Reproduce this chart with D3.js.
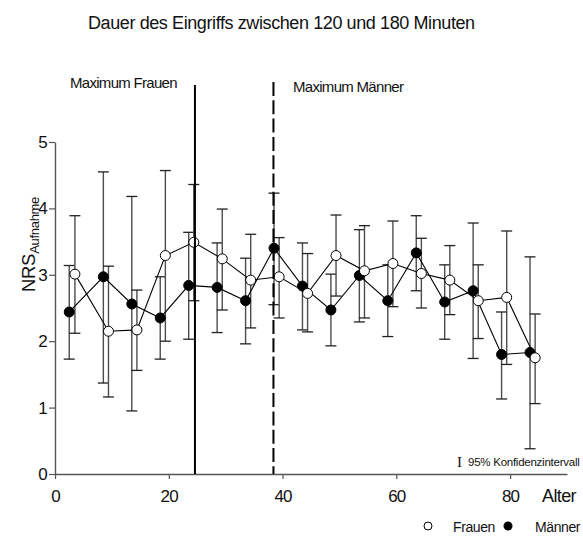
<!DOCTYPE html>
<html>
<head>
<meta charset="utf-8">
<script src="https://cdn.jsdelivr.net/npm/d3@7"></script>
<style>
  html, body { margin: 0; padding: 0; background: #fff; }
  svg { display: block; font-family: "Liberation Sans", Arial, sans-serif; }
</style>
</head>
<body>
<svg id="chart" width="583" height="538"></svg>
<script>
// Mittleres NRS bei Aufnahme nach Altersgruppe, mit 95%-Konfidenzintervall
const alterMaenner = [2.5, 8.5, 13.5, 18.5, 23.5, 28.5, 33.5, 38.5, 43.5, 48.5, 53.5, 58.5, 63.5, 68.5, 73.5, 78.5, 83.5];
const nrsMaenner   = [2.44, 2.97, 2.56, 2.35, 2.84, 2.81, 2.61, 3.40, 2.83, 2.47, 2.99, 2.61, 3.33, 2.59, 2.76, 1.80, 1.83];
const kiMaennerU   = [1.73, 1.37, 0.95, 1.73, 2.03, 2.13, 1.96, 2.55, 2.17, 1.93, 2.29, 2.07, 2.76, 2.03, 1.74, 1.13, 0.38];
const kiMaennerO   = [3.14, 4.55, 4.18, 2.97, 3.64, 3.48, 3.25, 4.23, 3.48, 3.01, 3.68, 3.15, 3.89, 3.15, 3.78, 2.44, 3.27];

const alterFrauen  = [3.5, 9.4, 14.4, 19.4, 24.4, 29.4, 34.4, 39.4, 44.4, 49.4, 54.4, 59.4, 64.4, 69.4, 74.4, 79.4, 84.4];
const nrsFrauen    = [3.01, 2.15, 2.17, 3.29, 3.49, 3.24, 2.92, 2.97, 2.72, 3.29, 3.06, 3.17, 3.02, 2.92, 2.61, 2.66, 1.75];
const kiFrauenU    = [2.12, 1.16, 1.56, 2.00, 2.61, 2.47, 2.20, 2.35, 2.14, 2.68, 2.35, 2.52, 2.50, 2.40, 2.04, 1.65, 1.06];
const kiFrauenO    = [3.89, 3.13, 2.77, 4.57, 4.36, 3.99, 3.61, 3.56, 3.32, 3.90, 3.74, 3.81, 3.55, 3.44, 3.15, 3.66, 2.41];

const maxAlterFrauen  = 24.6;
const maxAlterMaenner = 38.4;

const xTicks = [0, 20, 40, 60, 80];
const yTicks = [0, 1, 2, 3, 4, 5];

const svg = d3.select("#chart");
const x = d3.scaleLinear().domain([0, 90]).range([55, 567]);
const y = d3.scaleLinear().domain([0, 5]).range([474, 142]);

const axisColor = "#555";

// Achsen
const xAxis = svg.append("g").attr("transform", `translate(0,${y(0)})`)
  .call(d3.axisBottom(x).tickValues(xTicks).tickFormat(d3.format("d"))
    .tickSize(5).tickSizeOuter(0).tickPadding(11));
const yAxis = svg.append("g").attr("transform", `translate(${x(0)},0)`)
  .call(d3.axisLeft(y).tickValues(yTicks).tickFormat(d3.format("d"))
    .tickSize(6).tickSizeOuter(0).tickPadding(2));
[xAxis, yAxis].forEach(g => {
  g.select(".domain").attr("stroke", axisColor).attr("stroke-width", 1.4);
  g.selectAll(".tick line").attr("stroke", axisColor).attr("stroke-width", 1.2);
  g.selectAll(".tick text").attr("fill", "#111").attr("font-size", 17)
    .attr("font-family", '"Liberation Sans", Arial, sans-serif').attr("letter-spacing", -0.8);
});

function serie(alter, nrs, lo, hi) {
  return alter.map((a, i) => ({ a, v: nrs[i], lo: lo[i], hi: hi[i] }));
}
const maenner = serie(alterMaenner, nrsMaenner, kiMaennerU, kiMaennerO);
const frauen  = serie(alterFrauen, nrsFrauen, kiFrauenU, kiFrauenO);

const capHalf = 5.5;
function fehlerbalken(data) {
  const g = svg.append("g");
  g.selectAll("line.stem").data(data).join("line")
    .attr("x1", d => x(d.a)).attr("x2", d => x(d.a))
    .attr("y1", d => y(d.lo)).attr("y2", d => y(d.hi))
    .attr("stroke", "#4d4d4d").attr("stroke-width", 1.4);
  ["lo", "hi"].forEach(k => {
    g.selectAll("line.cap" + k).data(data).join("line")
      .attr("x1", d => x(d.a) - capHalf).attr("x2", d => x(d.a) + capHalf)
      .attr("y1", d => y(d[k])).attr("y2", d => y(d[k]))
      .attr("stroke", "#222").attr("stroke-width", 1.3);
  });
}
fehlerbalken(maenner);
fehlerbalken(frauen);

const linie = d3.line().x(d => x(d.a)).y(d => y(d.v));
[maenner, frauen].forEach(data => {
  svg.append("path").datum(data).attr("d", linie)
    .attr("fill", "none").attr("stroke", "#000").attr("stroke-width", 1.1);
});

svg.append("g").selectAll("circle").data(maenner).join("circle")
  .attr("cx", d => x(d.a)).attr("cy", d => y(d.v)).attr("r", 5)
  .attr("fill", "#000").attr("stroke", "#000").attr("stroke-width", 1);
svg.append("g").selectAll("circle").data(frauen).join("circle")
  .attr("cx", d => x(d.a)).attr("cy", d => y(d.v)).attr("r", 5)
  .attr("fill", "#fff").attr("stroke", "#000").attr("stroke-width", 1);

// Lage der Maxima
svg.append("line")
  .attr("x1", x(maxAlterFrauen)).attr("x2", x(maxAlterFrauen))
  .attr("y1", 85).attr("y2", y(0))
  .attr("stroke", "#000").attr("stroke-width", 2);
svg.append("line")
  .attr("x1", x(maxAlterMaenner)).attr("x2", x(maxAlterMaenner))
  .attr("y1", 82).attr("y2", y(0))
  .attr("stroke", "#000").attr("stroke-width", 2).attr("stroke-dasharray", "14,4.3");

// Texte
const txt = (s, xx, yy, size, opts = {}) => svg.append("text")
  .attr("x", xx).attr("y", yy).attr("font-size", size)
  .attr("letter-spacing", opts.ls ?? 0).attr("text-anchor", opts.anchor ?? "start")
  .attr("fill", "#111").text(s);

txt("Dauer des Eingriffs zwischen 120 und 180 Minuten", 88, 29, 18, { ls: -0.4 });
txt("Maximum Frauen", 70, 88, 15, { ls: -0.7 });
txt("Maximum Männer", 293, 92, 15, { ls: -0.7 });
txt("Alter", 542, 502, 18, { ls: -0.6 });

// Y-Achsentitel mit tiefgestelltem Index
const yt = svg.append("text").attr("transform", "translate(35,292) rotate(-90)")
  .attr("font-size", 18.5).attr("fill", "#111").attr("letter-spacing", -0.3);
yt.append("tspan").text("NRS");
yt.append("tspan").attr("font-size", 13).attr("dy", 3.5).attr("letter-spacing", -0.3).text("Aufnahme");

// Hinweis Konfidenzintervall
txt("I", 457, 467, 15).attr("font-family", '"Liberation Serif", "Times New Roman", serif');
txt("95% Konfidenzintervall", 468, 466, 11.5, { ls: -0.25 });

// Legende
svg.append("circle").attr("cx", 428).attr("cy", 526).attr("r", 4)
  .attr("fill", "#fff").attr("stroke", "#000").attr("stroke-width", 1);
txt("Frauen", 453, 532, 14, { ls: -0.4 });
svg.append("circle").attr("cx", 508).attr("cy", 526).attr("r", 4.5).attr("fill", "#000");
txt("Männer", 535, 532, 14, { ls: -0.4 });
</script>
</body>
</html>
